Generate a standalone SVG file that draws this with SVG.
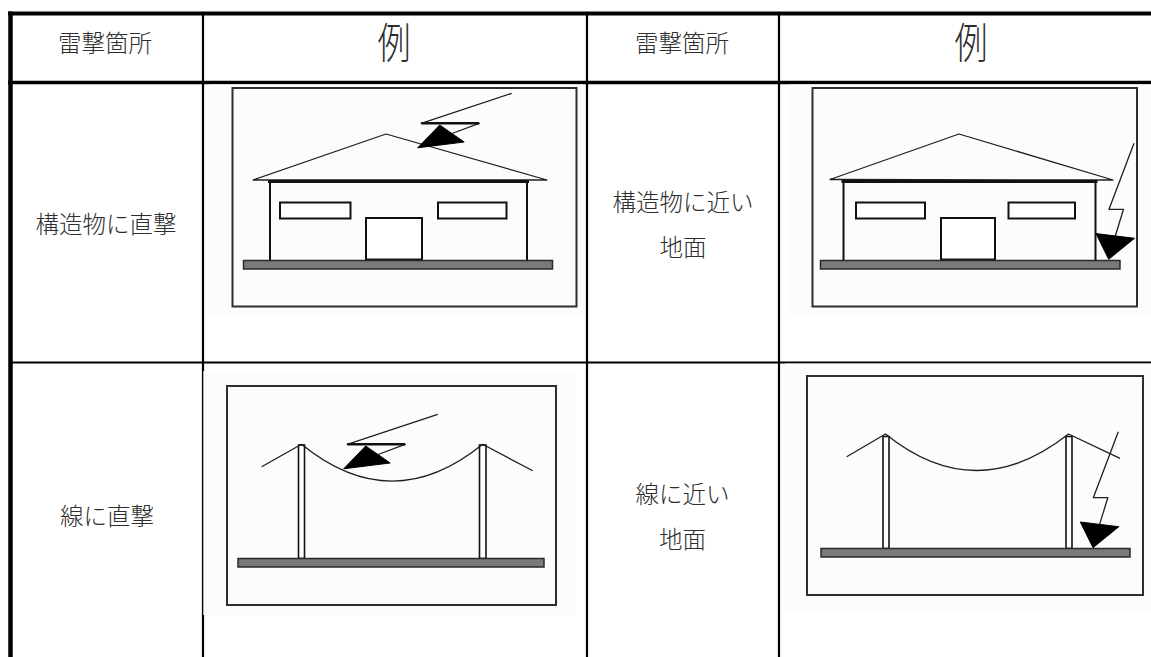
<svg xmlns="http://www.w3.org/2000/svg" width="1151" height="657" viewBox="0 0 1151 657">
  <style>
    .grid { stroke: #000; fill: none; stroke-linecap: butt; }
    .lbl { font-family: "Liberation Sans", "Noto Sans CJK JP", sans-serif; font-size: 23.5px; font-weight: 300; fill: #2e2e2e; text-anchor: middle; }
    .big { font-family: "Liberation Sans", "Noto Sans CJK JP", sans-serif; font-size: 43px; font-weight: 300; fill: #2e2e2e; text-anchor: middle; }
    .bg { fill: #fcfcfc; stroke: none; }
    .frame { fill: none; stroke: #2e2e2e; stroke-width: 2; }
    .ground { fill: #7a7a7a; stroke: #2a2a2a; stroke-width: 1.5; }
    .thin { fill: none; stroke: #1e1e1e; stroke-width: 1.3; stroke-linejoin: round; }
    .wall { fill: none; stroke: #111; stroke-width: 2; }
    .eave { stroke: #111; stroke-width: 3; }
    .box { fill: #fff; stroke: #111; stroke-width: 2; }
    .pole { fill: #fff; stroke: #111; stroke-width: 1.6; }
    .head { fill: #000; stroke: #000; stroke-width: 1; stroke-linejoin: round; }
  </style>
  <defs>
    <!-- lightning bolt striking from the upper right, shallow angle -->
    <g id="boltSide">
      <path class="thin" d="M0,0 L-90.5,30 L-32.5,30 L-59.7,40.2"/>
      <line x1="-90.5" y1="30" x2="-32.5" y2="30" stroke="#111" stroke-width="2.4"/>
      <polygon class="head" points="-72,31.7 -47.5,48.7 -94,54.5"/>
    </g>
    <!-- lightning bolt striking almost straight down -->
    <g id="boltDown">
      <path class="thin" d="M0,0 L-25,66 L-10.5,66 L-18.7,92.7"/>
      <polygon class="head" points="-38,90.3 0.5,95 -25.3,116"/>
    </g>
  </defs>

  <rect width="1151" height="657" fill="#fff"/>

  <!-- table grid -->
  <g id="table">
    <line class="grid" x1="8" y1="13.5" x2="1151" y2="13.5" stroke-width="4"/>
    <line class="grid" x1="10.5" y1="11.5" x2="10.5" y2="657" stroke-width="4.5"/>
    <line class="grid" x1="8" y1="82.5" x2="1151" y2="82.5" stroke-width="3.5"/>
    <line class="grid" x1="10" y1="362.5" x2="1151" y2="362.5" stroke-width="2.2"/>
    <line class="grid" x1="203" y1="13" x2="203" y2="657" stroke-width="2.2"/>
    <line class="grid" x1="587" y1="13" x2="587" y2="657" stroke-width="2.2"/>
    <line class="grid" x1="779" y1="13" x2="779" y2="657" stroke-width="2.2"/>
  </g>

  <!-- header row -->
  <g id="header">
    <text class="lbl" x="105" y="52">雷撃箇所</text>
    <text class="big" transform="translate(394,59) scale(0.77,1)">例</text>
    <text class="lbl" x="682" y="52">雷撃箇所</text>
    <text class="big" transform="translate(971,59) scale(0.77,1)">例</text>
  </g>

  <!-- row 1: direct strike on a structure -->
  <g id="label-structure-direct">
    <text class="lbl" x="106" y="233">構造物に直撃</text>
  </g>
  <g id="pic-structure-direct">
    <rect class="bg" x="209" y="84.5" width="374" height="232"/>
    <rect class="frame" x="232.5" y="88" width="344" height="218.5"/>
    <polygon class="thin" points="253,180 386,134 547,180"/>
    <polyline class="wall" points="270,260 270,181.5 527,181.5 527,260"/>
    <line class="eave" x1="268" y1="181.5" x2="529" y2="181.5"/>
    <rect class="box" x="280" y="202.5" width="70.5" height="16"/>
    <rect class="box" x="438" y="202.5" width="68.5" height="16"/>
    <rect class="box" x="366" y="218" width="56" height="41.5"/>
    <rect class="ground" x="243.5" y="260.5" width="309" height="8.5"/>
    <use href="#boltSide" x="511.7" y="93.3"/>
  </g>

  <!-- row 1: strike on ground near a structure -->
  <g id="label-structure-near">
    <text class="lbl" x="683" y="210.5">構造物に近い</text>
    <text class="lbl" x="683" y="256">地面</text>
  </g>
  <g id="pic-structure-near">
    <rect class="bg" x="789" y="84.5" width="362" height="232"/>
    <rect class="frame" x="812.5" y="88" width="324.5" height="218.5"/>
    <polygon class="thin" points="830,179.5 959,134 1113,180"/>
    <polyline class="wall" points="843.5,260 843.5,181.5 1095.5,181.5 1095.5,260"/>
    <line class="eave" x1="841.5" y1="181.5" x2="1097.5" y2="181.5"/>
    <rect class="box" x="856" y="202.5" width="69" height="16"/>
    <rect class="box" x="1008.5" y="202.5" width="66.5" height="16"/>
    <rect class="box" x="941" y="218" width="54" height="41.5"/>
    <rect class="ground" x="820.5" y="260.5" width="299.5" height="8.5"/>
    <use href="#boltDown" x="1134" y="143.3"/>
  </g>

  <!-- row 2: direct strike on a line -->
  <g id="label-line-direct">
    <text class="lbl" x="107" y="525">線に直撃</text>
  </g>
  <g id="pic-line-direct">
    <rect class="bg" x="203.3" y="371" width="372" height="244"/>
    <rect class="frame" x="227" y="386" width="329" height="219"/>
    <rect class="pole" x="298.5" y="445" width="6" height="113.5"/>
    <rect class="pole" x="479.5" y="445" width="6.5" height="113.5"/>
    <path class="thin" d="M261.7,466.7 L301.5,444.3 Q392,518 482.7,444.3 L532.7,470.7"/>
    <rect class="ground" x="238" y="558.5" width="306" height="8.5"/>
    <use href="#boltSide" x="437.7" y="414.3"/>
  </g>

  <!-- row 2: strike on ground near a line -->
  <g id="label-line-near">
    <text class="lbl" x="682.5" y="503">線に近い</text>
    <text class="lbl" x="682.5" y="548">地面</text>
  </g>
  <g id="pic-line-near">
    <rect class="bg" x="785" y="363.6" width="366" height="247"/>
    <rect class="frame" x="807" y="376" width="336" height="219"/>
    <rect class="pole" x="883" y="436.5" width="6" height="112"/>
    <rect class="pole" x="1066" y="436.5" width="6" height="112"/>
    <path class="thin" d="M846.7,456.7 L885.5,434 Q976,507 1068.5,434 L1120,458.3"/>
    <rect class="ground" x="821" y="548.5" width="309" height="8.5"/>
    <use href="#boltDown" x="1118.3" y="431.7"/>
  </g>
</svg>
